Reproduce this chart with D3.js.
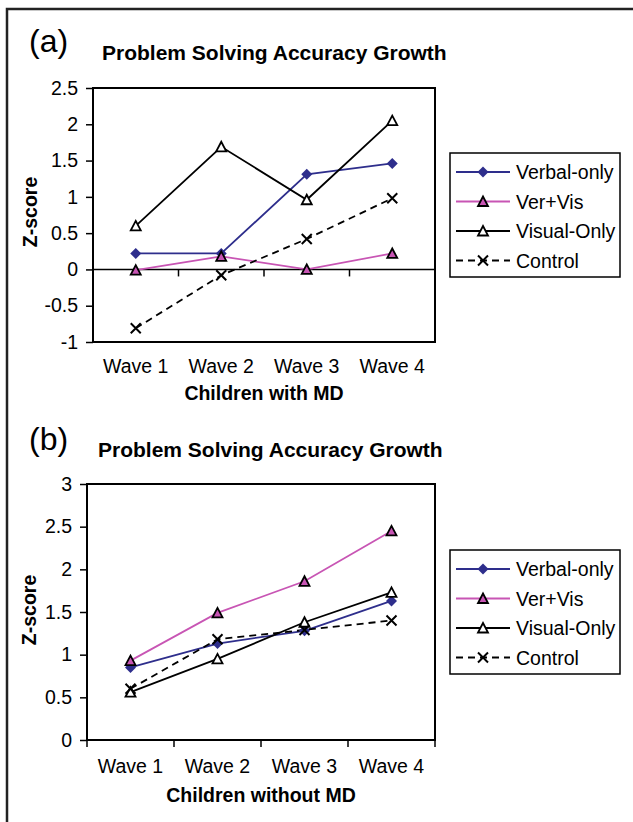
<!DOCTYPE html>
<html>
<head>
<meta charset="utf-8">
<script src="https://d3js.org/d3.v7.min.js"></script>
<style>
  body { margin: 0; background: #fff; }
  svg text { font-family: "Liberation Sans", Arial, sans-serif; fill: #000; }
</style>
</head>
<body>
<div id="chart"></div>
<script>
// data
var waves = ["Wave 1", "Wave 2", "Wave 3", "Wave 4"];
var seriesNames = ["Verbal-only", "Ver+Vis", "Visual-Only", "Control"];

// (a) children with MD
var mdVerbal  = [0.22, 0.22, 1.31, 1.46];
var mdVerVis  = [-0.01, 0.18, 0.00, 0.22];
var mdVisual  = [0.60, 1.69, 0.96, 2.05];
var mdControl = [-0.81, -0.08, 0.42, 0.98];
var mdTicks   = [-1, -0.5, 0, 0.5, 1, 1.5, 2, 2.5];

// (b) children without MD
var noVerbal  = [0.85, 1.13, 1.28, 1.63];
var noVerVis  = [0.93, 1.49, 1.86, 2.45];
var noVisual  = [0.56, 0.95, 1.38, 1.73];
var noControl = [0.60, 1.18, 1.29, 1.40];
var noTicks   = [0, 0.5, 1, 1.5, 2, 2.5, 3];

var W = 633, H = 822;
var FONT = 19.5;

var styles = {
  "Verbal-only": { color: "#2e2e8c", dash: null, marker: "diamond" },
  "Ver+Vis":     { color: "#c855b4", dash: null, marker: "triFill" },
  "Visual-Only": { color: "#000", dash: null, marker: "triOpen" },
  "Control":     { color: "#000", dash: "7,5", marker: "cross" }
};

var svg = d3.select("#chart").append("svg")
    .attr("width", W)
    .attr("height", H);

// outer frame (top and left edges visible)
svg.append("path")
    .attr("d", "M7," + H + "V9H" + W)
    .attr("fill", "none")
    .attr("stroke", "#222")
    .attr("stroke-width", 2.5);

function drawMarker(g, type, x, y) {
  if (type == "diamond") {
    g.append("path")
        .attr("d", "M" + x + "," + (y - 5.5) + "L" + (x + 5.5) + "," + y + "L" + x + "," + (y + 5.5) + "L" + (x - 5.5) + "," + y + "Z")
        .attr("fill", "#2e2e8c");
  } else if (type == "triFill" || type == "triOpen") {
    g.append("path")
        .attr("d", "M" + x + "," + (y - 5) + "L" + (x + 5) + "," + (y + 4.5) + "L" + (x - 5) + "," + (y + 4.5) + "Z")
        .attr("fill", type == "triFill" ? "#c855b4" : "#fff")
        .attr("stroke", "#000")
        .attr("stroke-width", 1.8)
        .attr("stroke-linejoin", "miter");
  } else {
    g.append("path")
        .attr("d", "M" + (x - 5) + "," + (y - 5) + "L" + (x + 5) + "," + (y + 5) + "M" + (x + 5) + "," + (y - 5) + "L" + (x - 5) + "," + (y + 5))
        .attr("stroke", "#000")
        .attr("stroke-width", 2);
  }
}

function panel(opt) {
  var g = svg.append("g");

  var x = d3.scaleBand().domain(waves).range([opt.left, opt.right]);
  var y = d3.scaleLinear().domain([opt.ticks[0], opt.ticks[opt.ticks.length - 1]]).range([opt.bottom, opt.top]);
  var cx = function(d) { return x(d) + x.bandwidth() / 2; };

  // panel letter and title
  g.append("text")
      .attr("x", 29).attr("y", opt.letterY)
      .style("font-size", "32px")
      .text(opt.letter);
  g.append("text")
      .attr("x", opt.titleX).attr("y", opt.titleY)
      .style("font-size", "21px").style("font-weight", "bold")
      .text("Problem Solving Accuracy Growth");

  // plot box
  g.append("rect")
      .attr("x", opt.left).attr("y", opt.top)
      .attr("width", opt.right - opt.left).attr("height", opt.bottom - opt.top)
      .attr("fill", "none").attr("stroke", "#000").attr("stroke-width", 2);

  // y axis
  var yAxis = g.append("g")
      .attr("transform", "translate(" + opt.left + ",0)")
      .call(d3.axisLeft(y).tickValues(opt.ticks).tickSize(7).tickPadding(8)
          .tickFormat(function(d) { return String(d); }));
  yAxis.select(".domain").remove();
  yAxis.selectAll("line").attr("stroke", "#000").attr("stroke-width", 1.5);
  yAxis.selectAll("text").style("font-size", FONT + "px")
      .style("font-family", "'Liberation Sans', Arial, sans-serif");

  // category axis: line at the crossing value, ticks at band edges
  var y0 = y(opt.cross);
  g.append("line")
      .attr("x1", opt.left).attr("x2", opt.right)
      .attr("y1", y0).attr("y2", y0)
      .attr("stroke", "#000").attr("stroke-width", 1.5);
  var edges = waves.map(function(d) { return x(d); }).concat([opt.right]);
  if (opt.cross != opt.ticks[0]) edges = edges.slice(1);
  g.selectAll(".edge").data(edges).enter().append("line")
      .attr("x1", function(d) { return d; }).attr("x2", function(d) { return d; })
      .attr("y1", y0).attr("y2", y0 + 7)
      .attr("stroke", "#000").attr("stroke-width", 1.5);

  var xAxis = g.append("g")
      .attr("transform", "translate(0," + opt.bottom + ")")
      .call(d3.axisBottom(x).tickSize(0).tickPadding(opt.labelPad));
  xAxis.select(".domain").remove();
  xAxis.selectAll("text").style("font-size", FONT + "px")
      .style("font-family", "'Liberation Sans', Arial, sans-serif");

  // axis titles
  g.append("text")
      .attr("transform", "translate(" + opt.yTitleX + "," + opt.yTitleY + ") rotate(-90)")
      .attr("text-anchor", "middle")
      .style("font-size", FONT + "px").style("font-weight", "bold")
      .text("Z-score");
  g.append("text")
      .attr("x", (opt.left + opt.right) / 2).attr("y", opt.xTitleY)
      .attr("text-anchor", "middle")
      .style("font-size", FONT + "px").style("font-weight", "bold")
      .text(opt.xTitle);

  // series
  var line = d3.line()
      .x(function(d, i) { return cx(waves[i]); })
      .y(function(d) { return y(d); });
  opt.series.forEach(function(vals, k) {
    var st = styles[seriesNames[k]];
    g.append("path")
        .datum(vals)
        .attr("d", line)
        .attr("fill", "none")
        .attr("stroke", st.color)
        .attr("stroke-width", 1.8)
        .attr("stroke-dasharray", st.dash);
  });
  // markers on top, drawn in series order
  opt.series.forEach(function(vals, k) {
    var st = styles[seriesNames[k]];
    vals.forEach(function(v, i) { drawMarker(g, st.marker, cx(waves[i]), y(v)); });
  });

  // legend
  var lg = g.append("g");
  lg.append("rect")
      .attr("x", 450).attr("y", opt.legTop)
      .attr("width", 170).attr("height", 124)
      .attr("fill", "#fff").attr("stroke", "#000").attr("stroke-width", 1.5);
  seriesNames.forEach(function(name, k) {
    var st = styles[name];
    var ly = opt.legTop + 19 + k * 29.5;
    lg.append("line")
        .attr("x1", 456).attr("x2", 510).attr("y1", ly).attr("y2", ly)
        .attr("stroke", st.color).attr("stroke-width", 1.8)
        .attr("stroke-dasharray", st.dash);
    drawMarker(lg, st.marker, 483, ly);
    lg.append("text")
        .attr("x", 516).attr("y", ly).attr("dy", "0.36em")
        .style("font-size", FONT + "px")
        .text(name);
  });
}

panel({
  letter: "(a)", letterY: 52, titleX: 102, titleY: 59.5,
  left: 93, right: 435, top: 88, bottom: 342,
  ticks: mdTicks, cross: 0, labelPad: 17,
  yTitleX: 37, yTitleY: 212, xTitleY: 400, xTitle: "Children with MD",
  series: [mdVerbal, mdVerVis, mdVisual, mdControl],
  legTop: 153
});

panel({
  letter: "(b)", letterY: 450, titleX: 98, titleY: 456.5,
  left: 87, right: 435, top: 484, bottom: 740,
  ticks: noTicks, cross: 0, labelPad: 19,
  yTitleX: 36, yTitleY: 610, xTitleY: 802, xTitle: "Children without MD",
  series: [noVerbal, noVerVis, noVisual, noControl],
  legTop: 550
});
</script>
</body>
</html>
